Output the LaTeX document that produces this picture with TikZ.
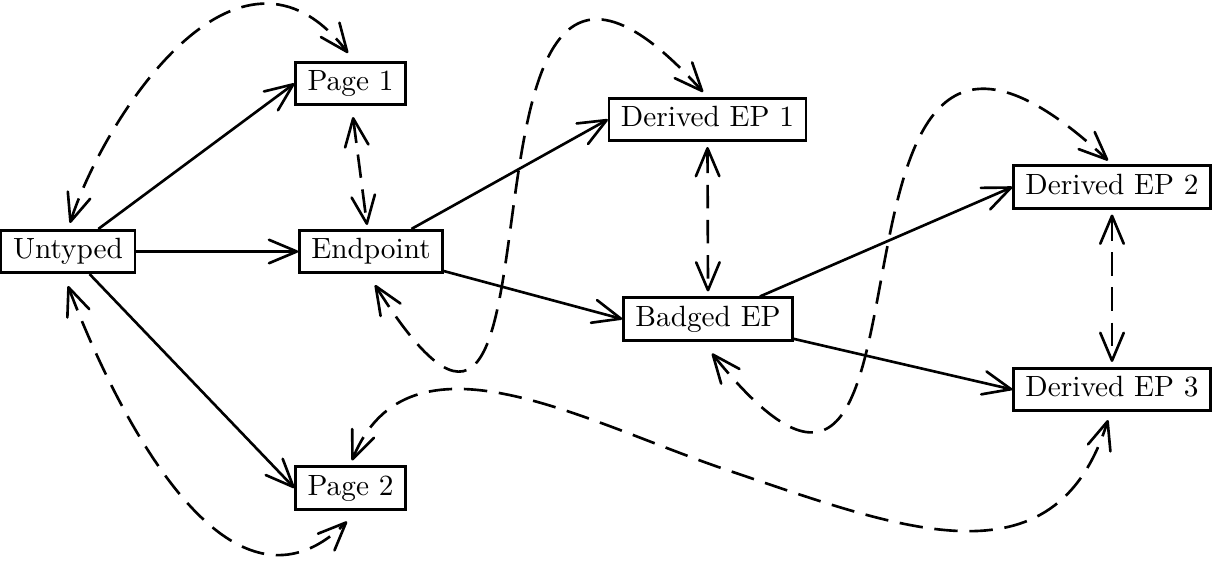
\documentclass[tikz,border=0pt]{standalone}
\usetikzlibrary{arrows.meta,calc}
\begin{document}
\begin{tikzpicture}[x=0.3413pt,y=-0.3413pt,
  box/.style={draw, line width=0.9pt, inner xsep=4.05pt, inner ysep=2.8pt, text height=6.94pt, text depth=1.94pt},
  tipbarb/.tip={Straight Barb[length=9.5pt,width=8pt,line cap=round,line join=round]},
  edge/.style={line width=0.9pt, -tipbarb},
  dedge/.style={line width=0.9pt, dash pattern=on 8pt off 4pt, tipbarb-tipbarb}]
\useasboundingbox (0,0) rectangle (1212,564);
% nodes
\node[box] (u)  at (68,251.5)   {Untyped};
\node[box] (p1) at (350.5,83.5) {Page 1};
\node[box] (ep) at (371,251.5)  {Endpoint};
\node[box] (p2) at (350.5,488)  {Page 2};
\node[box] (d1) at (707.5,119.5) {Derived EP 1};
\node[box] (b)  at (708,319)    {Badged EP};
\node[box] (d2) at (1112,187)   {Derived EP 2};
\node[box] (d3) at (1112,389.5) {Derived EP 3};
\coordinate (emid) at (727,470);
% solid edges
\draw[edge] (u) -- (p1.west);
\draw[edge] (u) -- (ep);
\draw[edge] (u) -- (p2.west);
\draw[edge] (ep) -- (d1.west);
\draw[edge] (ep) -- (b.west);
\draw[edge] (b) -- (d2.west);
\draw[edge] (b) -- (d3.west);
% dashed straight edges
\draw[dedge] ($(p1.south)+(2.5,11)$) -- ($(ep.north)+(-4,-4)$);
\draw[dedge] ($(d1.south)+(0,5)$) -- ($(b.north)+(0,-5)$);
\draw[dedge] ($(d2.south)+(0,5)$) -- ($(d3.north)+(0,-5)$);
% dashed curves
\draw[dedge] ($(u.north)+(2,-6)$) .. controls +(33.7,-104.2) and +(-110.3,-142.9) .. ($(p1.north)+(-2.5,-8)$);
\draw[dedge] ($(u.south)+(0,12)$) .. controls +(36.5,96.4) and +(-125.8,124) .. ($(p2.south)+(-3.5,11)$);
\draw[dedge] ($(ep.south)+(4,11)$) .. controls +(220,350) and +(-286,-317) .. ($(d1.north)+(-4.5,-5)$);
\draw[dedge] ($(b.south)+(4,12)$) .. controls +(263,327) and +(-332,-310) .. ($(d2.north)+(-4,-4)$);
\draw[dedge] ($(p2.north)+(1.5,-5)$) .. controls +(57,-139.5) and +(-142.5,-48) .. (emid)
  .. controls +(171,57.6) and +(-54,171) .. ($(d3.south)+(-4,8)$);
\end{tikzpicture}
\end{document}
